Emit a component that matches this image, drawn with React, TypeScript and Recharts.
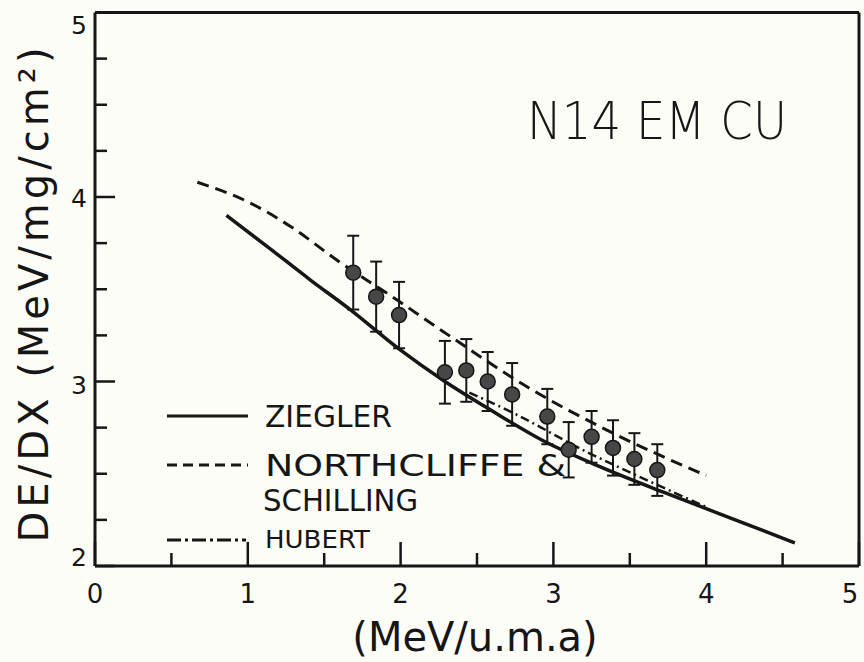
import { ComposedChart, Line, Scatter, ErrorBar, XAxis, YAxis } from 'recharts';

// Ziegler (solid)
const zieglerX = [0.86, 1.13, 1.41, 1.67, 2.0, 2.29, 2.6, 2.93, 3.3, 3.72, 4.16, 4.58];
const zieglerY = [3.9, 3.73, 3.55, 3.39, 3.17, 3.0, 2.84, 2.68, 2.54, 2.4, 2.26, 2.125];

// Northcliffe & Schilling (dashed)
const northX = [0.67, 1.01, 1.28, 1.58, 1.98, 2.28, 2.83, 3.39, 4.0];
const northY = [4.08, 3.97, 3.84, 3.66, 3.44, 3.27, 2.97, 2.72, 2.49];

// Hubert (dash-dot)
const hubertX = [2.45, 2.76, 3.19, 3.6, 4.0];
const hubertY = [2.94, 2.82, 2.63, 2.47, 2.32];

// measured points
const ptsX = [1.69, 1.84, 1.99, 2.29, 2.43, 2.57, 2.73, 2.96, 3.1, 3.25, 3.39, 3.53, 3.68];
const ptsY = [3.59, 3.46, 3.36, 3.05, 3.06, 3.0, 2.93, 2.81, 2.63, 2.7, 2.64, 2.58, 2.52];
const ptsErr = [0.2, 0.19, 0.18, 0.17, 0.17, 0.16, 0.17, 0.15, 0.15, 0.14, 0.15, 0.14, 0.14];

const xTicks = [0, 0.5, 1, 1.5, 2, 2.5, 3, 3.5, 4, 4.5, 5];
const yTicks = [2, 2.25, 2.5, 2.75, 3, 3.25, 3.5, 3.75, 4, 4.25, 4.5, 4.75, 5];

const zip = (xs: number[], ys: number[]) => xs.map((x, i) => ({ x, y: ys[i] }));
const ziegler = zip(zieglerX, zieglerY);
const north = zip(northX, northY);
const hubert = zip(hubertX, hubertY);
const points = ptsX.map((x, i) => ({ x, y: ptsY[i], err: ptsErr[i] }));

const INK = '#161616';
const FONT = '"DejaVu Sans", sans-serif';

const BottomTick = ({ x, y, payload }: any) => {
  const major = Number.isInteger(payload.value);
  // last label sits against the page edge
  const lx = payload.value === 5 ? x - 9 : x;
  return (
    <g>
      <line x1={x} x2={x} y1={y} y2={y - (major ? 24 : 13)} stroke={INK} strokeWidth={2.5} />
      {major && (
        <text x={lx} y={y + 37} textAnchor="middle" fontSize={26} fontFamily={FONT} fill={INK}>
          {payload.value}
        </text>
      )}
    </g>
  );
};

const TopTick = ({ x, y, payload }: any) => {
  const major = Number.isInteger(payload.value);
  return <line x1={x} x2={x} y1={y} y2={y + (major ? 20 : 13)} stroke={INK} strokeWidth={2.5} />;
};

const yLabelShift: Record<number, number> = { 5: 21, 4: 10, 3: 12, 2: 0 };

const LeftTick = ({ x, y, payload }: any) => {
  const major = Number.isInteger(payload.value);
  return (
    <g>
      <line x1={x} x2={x + (major ? 20 : 12)} y1={y} y2={y} stroke={INK} strokeWidth={2.5} />
      {major && (
        <text x={x - 8} y={y + yLabelShift[payload.value]} textAnchor="end" fontSize={25} fontFamily={FONT} fill={INK}>
          {payload.value}
        </text>
      )}
    </g>
  );
};

const RightTick = ({ x, y, payload }: any) => {
  const major = Number.isInteger(payload.value);
  return <line x1={x} x2={x - (major ? 20 : 10)} y1={y} y2={y} stroke={INK} strokeWidth={2.5} />;
};

const Dot = ({ cx, cy }: any) => <circle cx={cx} cy={cy} r={7.5} fill="#474747" stroke={INK} strokeWidth={1.5} />;

export default function App() {
  return (
    <div style={{ position: 'absolute', left: 0, top: 0, width: 864, height: 662, background: '#fdfdf7' }}>
      <ComposedChart width={864} height={662} margin={{ top: 7.5, right: 0, bottom: 36, left: 35 }}>
        <XAxis
          dataKey="x"
          type="number"
          domain={[0, 5]}
          ticks={xTicks}
          height={60}
          tickSize={0}
          tickMargin={0}
          tickLine={false}
          axisLine={{ stroke: INK, strokeWidth: 3 }}
          tick={<BottomTick />}
          interval={0}
        />
        <XAxis
          xAxisId="top"
          orientation="top"
          dataKey="x"
          type="number"
          domain={[0, 5]}
          ticks={xTicks}
          height={5}
          tickSize={0}
          tickMargin={0}
          tickLine={false}
          axisLine={{ stroke: INK, strokeWidth: 3 }}
          tick={<TopTick />}
          interval={0}
        />
        <YAxis
          type="number"
          domain={[2, 5]}
          ticks={yTicks}
          width={60}
          tickSize={0}
          tickMargin={0}
          tickLine={false}
          axisLine={{ stroke: INK, strokeWidth: 3 }}
          tick={<LeftTick />}
          interval={0}
        />
        <YAxis
          yAxisId="right"
          orientation="right"
          type="number"
          domain={[2, 5]}
          ticks={yTicks}
          width={5}
          tickSize={0}
          tickMargin={0}
          tickLine={false}
          axisLine={{ stroke: INK, strokeWidth: 3 }}
          tick={<RightTick />}
          interval={0}
        />
        <Line data={ziegler} dataKey="y" type="monotone" stroke={INK} strokeWidth={3.5} dot={false} isAnimationActive={false} />
        <Line data={north} dataKey="y" type="monotone" stroke={INK} strokeWidth={3} strokeDasharray="12 7" dot={false} isAnimationActive={false} />
        <Line data={hubert} dataKey="y" type="monotone" stroke={INK} strokeWidth={2.5} strokeDasharray="9 4 2 4" dot={false} isAnimationActive={false} />
        <Scatter data={points} dataKey="y" shape={<Dot />} isAnimationActive={false}>
          <ErrorBar dataKey="err" direction="y" width={6} stroke={INK} strokeWidth={2} isAnimationActive={false} />
        </Scatter>

        <g fontFamily={FONT} fill={INK}>
          <text x={527} y={139} fontSize={52} fontWeight={200} textLength={260} lengthAdjust="spacingAndGlyphs">
            N14 EM CU
          </text>

          <line x1={167} x2={248} y1={416} y2={416} stroke={INK} strokeWidth={3} />
          <text x={265} y={427} fontSize={30} textLength={127} lengthAdjust="spacingAndGlyphs">ZIEGLER</text>

          <line x1={167} x2={248} y1={465} y2={465} stroke={INK} strokeWidth={3} strokeDasharray="10 6" />
          <text x={265} y={476} fontSize={30} textLength={301} lengthAdjust="spacingAndGlyphs">NORTHCLIFFE &amp;</text>
          <text x={263} y={511} fontSize={30} textLength={155} lengthAdjust="spacingAndGlyphs">SCHILLING</text>

          <line x1={167} x2={246} y1={540} y2={540} stroke={INK} strokeWidth={3} strokeDasharray="14 4 3 4" />
          <text x={265} y={548} fontSize={25} textLength={105} lengthAdjust="spacingAndGlyphs">HUBERT</text>

          <text x={475} y={651} fontSize={40} textAnchor="middle">(MeV/u.m.a)</text>
          <text
            x={48}
            y={295}
            fontSize={40}
            textAnchor="middle"
            transform="rotate(-90 48 295)"
            textLength={495}
            lengthAdjust="spacing"
          >
            DE/DX (MeV/mg/cm²)
          </text>
        </g>
      </ComposedChart>
    </div>
  );
}
